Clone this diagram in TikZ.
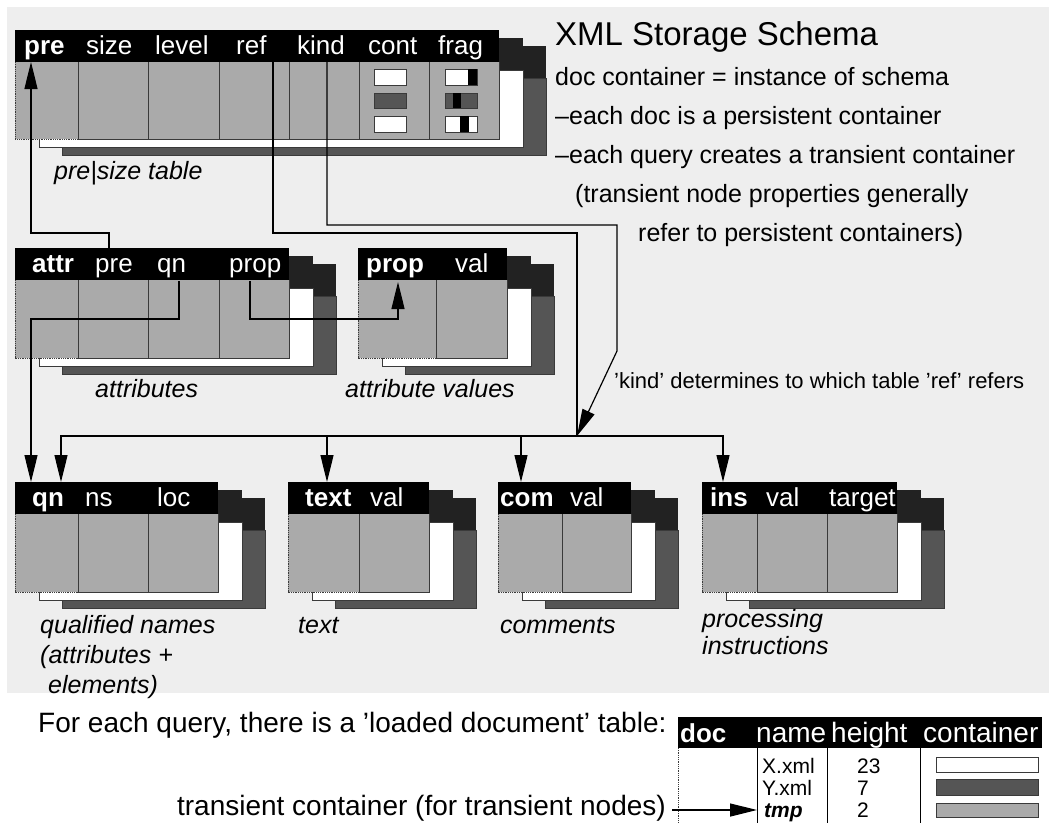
\documentclass[tikz,border=0pt]{standalone}
\usepackage{fontspec}
\setmainfont{Liberation Sans}
\usetikzlibrary{arrows.meta}
\definecolor{bgc}{HTML}{EEEEEE}
\definecolor{bodyc}{HTML}{AAAAAA}
\definecolor{layd}{HTML}{222222}
\definecolor{layb}{HTML}{555555}
\definecolor{edgec}{HTML}{3A3A3A}
\tikzset{
  conn/.style={line width=1.2pt, draw=black},
  bigtip/.tip={Triangle[length=27pt,width=13pt]},
  celll/.style={line width=1pt, draw=edgec},
  dotl/.style={line width=0.8pt, draw=edgec, densely dotted},
  hd/.style={text=white, anchor=base west, inner sep=0pt, font=\fontsize{26}{26}\selectfont},
  capt/.style={anchor=base west, inner sep=0pt, font=\fontsize{25}{25}\selectfont\itshape},
  rt/.style={anchor=base west, inner sep=0pt, font=\fontsize{25}{25}\selectfont},
  small/.style={anchor=base west, inner sep=0pt, font=\fontsize{21}{21}\selectfont},
  dochd/.style={anchor=base west, inner sep=0pt, text=white, font=\fontsize{28}{28}\selectfont},
  minibox/.style={draw=edgec, line width=0.8pt},
}
\newcommand{\dbtable}[6]{%
  \fill[layd] (#1+47,#3+16) rectangle (#2+47,#3+48);
  \filldraw[fill=layb,draw=edgec,line width=0.8pt] (#1+47,#3+48) rectangle (#2+47,#4+16);
  \fill[layd] (#1+24,#3+8) rectangle (#2+24,#3+40);
  \filldraw[fill=white,draw=edgec,line width=0.8pt] (#1+24,#3+40) rectangle (#2+24,#4+8);
  \fill[bodyc] (#1,#3+32) rectangle (#2,#4);
  \foreach \s in {#6} {\draw[celll] (\s,#3+32) -- (\s,#4);}
  \draw[celll] (#2,#3+32) -- (#2,#4) -- (#5,#4);
  \draw[dotl] (#1,#3+32) -- (#1,#4) -- (#5,#4);
  \fill[black] (#1,#3) rectangle (#2,#3+32);
}
\begin{document}
\begin{tikzpicture}[x=1pt,y=-1pt]
\useasboundingbox (0,0) rectangle (1049,823);
\fill[bgc] (7,7) rectangle (1049,693);

% ---------- pre|size table
\dbtable{15}{499}{30}{139}{78}{78,148,219,289,359,429}
\node[hd] (hPre)   at (24,54)  {\bfseries pre};
\node[hd] (hSize)  at (86,54)  {size};
\node[hd] (hLevel) at (155,54) {level};
\node[hd] (hRef)   at (236,54) {ref};
\node[hd] (hKind)  at (297,54) {kind};
\node[hd] (hCont)  at (368,54) {cont};
\node[hd] (hFrag)  at (438,54) {frag};
\filldraw[minibox, fill=white] (374,69) rectangle (406,85);
\filldraw[minibox, fill=layb]  (374,93) rectangle (406,108);
\filldraw[minibox, fill=white] (374,116) rectangle (406,132);
\filldraw[minibox, fill=white] (445,69) rectangle (477,85);
\fill[black] (468,69) rectangle (477,85);
\filldraw[minibox, fill=layb]  (445,93) rectangle (477,108);
\fill[black] (453,93) rectangle (461,108);
\filldraw[minibox, fill=white] (445,116) rectangle (477,132);
\fill[black] (460,116) rectangle (469,132);
\node[capt] (cPre) at (54,179) {pre|size table};

% ---------- attr table
\dbtable{15}{289}{248}{358}{78}{78,148,219}
\node[hd] (hAttr)  at (32,272)  {\bfseries attr};
\node[hd] (hAPre)  at (95,272)  {pre};
\node[hd] (hAQn)   at (157,272) {qn};
\node[hd] (hAProp) at (229,272) {prop};
\node[capt] (cAttr) at (95,397) {attributes};

% ---------- prop table
\dbtable{358}{507}{248}{358}{436}{436}
\node[hd] (hProp)  at (366,272) {\bfseries prop};
\node[hd] (hPVal)  at (455,272) {val};
\node[capt] (cProp) at (345,397) {attribute values};

% ---------- qn table
\dbtable{15}{218}{482}{592}{78}{78,148}
\node[hd] (hQn)  at (32,506)  {\bfseries qn};
\node[hd] (hNs)  at (85,506)  {ns};
\node[hd] (hLoc) at (157,506) {loc};
\node[capt] (cQn1) at (40,633) {qualified names};
\node[capt] (cQn2) at (40,663) {(attributes +};
\node[capt] (cQn3) at (48,693) {elements)};

% ---------- text table
\dbtable{288}{429}{482}{592}{359}{359}
\node[hd] (hText) at (305,506) {\bfseries text};
\node[hd] (hTVal) at (370,506) {val};
\node[capt] (cText) at (298,633) {text};

% ---------- com table
\dbtable{498}{631}{482}{592}{562}{562}
\node[hd] (hCom)  at (500,506) {\bfseries com};
\node[hd] (hCVal) at (570,506) {val};
\node[capt] (cCom) at (500,633) {comments};

% ---------- ins table
\dbtable{702}{897}{482}{592}{757}{757,827}
\node[hd] (hIns)  at (710,506) {\bfseries ins};
\node[hd] (hIVal) at (766,506) {val};
\node[hd] (hTgt)  at (829,506) {target};
\node[capt] (cIns1) at (702,627) {processing};
\node[capt] (cIns2) at (702,654) {instructions};

% ---------- right text
\node[anchor=base west, inner sep=0pt, font=\fontsize{33}{33}\selectfont] (title) at (555,45) {XML Storage Schema};
\node[rt] (t1) at (555,85)  {doc container = instance of schema};
\node[rt] (t2) at (555,124) {–each doc is a persistent container};
\node[rt] (t3) at (555,163) {–each query creates a transient container};
\node[rt] (t4) at (575,202) {(transient node properties generally};
\node[rt] (t5) at (638,241) {refer to persistent containers)};
\node[anchor=base west, inner sep=0pt, font=\fontsize{22}{22}\selectfont] (kindlbl) at (614,388) {’kind’ determines to which table ’ref’ refers};

% ---------- connector coordinates
\coordinate (preIn)     at (31,62);
\coordinate (attrPreOut) at (109,248);
\coordinate (refOut)    at (273,62);
\coordinate (kindOut)   at (327,62);
\coordinate (branch)    at (577,436);
\coordinate (qnIn1)     at (31,482);
\coordinate (qnIn2)     at (61,482);
\coordinate (textIn)    at (327,482);
\coordinate (comIn)     at (521,482);
\coordinate (insIn)     at (723,482);
\coordinate (attrQnOut) at (179,281);
\coordinate (attrPropOut) at (250,281);
\coordinate (propIn)    at (398,282);

% ---------- connectors
\draw[conn,-bigtip] (attrPreOut) -- (109,233) -| (preIn);
\draw[conn] (refOut) -- (273,233) -| (branch);
\draw[conn,-bigtip] (kindOut) -- (327,225) -| (617,351) -- (branch);
\draw[conn,-bigtip] (branch) -| (qnIn2);
\draw[conn,-bigtip] (branch) -| (insIn);
\draw[conn,-bigtip] (branch -| textIn) -- (textIn);
\draw[conn,-bigtip] (branch -| comIn) -- (comIn);
\draw[conn,-bigtip] (attrQnOut) -- (179,319) -| (qnIn1);
\draw[conn,-bigtip] (attrPropOut) -- (250,319) -| (propIn);

% ---------- loaded document table
\node[anchor=base west, inner sep=0pt, font=\fontsize{28}{28}\selectfont] (forEach) at (38,732) {For each query, there is a ’loaded document’ table:};
\fill[black] (678,717) rectangle (1042,748);
\node[dochd, font=\fontsize{26}{26}\selectfont\bfseries] (hDoc) at (680,742) {doc};
\node[dochd] (hName) at (756,742) {name};
\node[dochd] (hHeight) at (831,742) {height};
\node[dochd] (hContainer) at (923,742) {container};
\draw[dotl] (678,748) -- (678,823);
\draw[line width=1pt] (757,748) -- (757,823);
\draw[line width=1pt] (827,748) -- (827,823);
\draw[line width=1pt] (920,748) -- (920,823);
\node[small] (rX) at (762,773)   {X.xml};
\node[small] (rY) at (762,795.5) {Y.xml};
\node[small, font=\fontsize{21}{21}\selectfont\bfseries\itshape] (rT) at (764,817.5) {tmp};
\node[small] (nX) at (857,773)   {23};
\node[small] (nY) at (857,795.5) {7};
\node[small] (nT) at (857,817.5) {2};
\filldraw[minibox, fill=white] (936,757) rectangle (1038,772);
\filldraw[minibox, fill=layb]  (936,779) rectangle (1038,795);
\filldraw[minibox, fill=bodyc] (936,803) rectangle (1038,817);
\node[anchor=base east, inner sep=0pt, font=\fontsize{28}{28}\selectfont] (trLbl) at (666,815) {transient container (for transient nodes)};
\coordinate (trStart) at (672,810);
\coordinate (tmpIn) at (757,810);
\draw[conn,-bigtip] (trStart) -- (tmpIn);
\end{tikzpicture}
\end{document}
